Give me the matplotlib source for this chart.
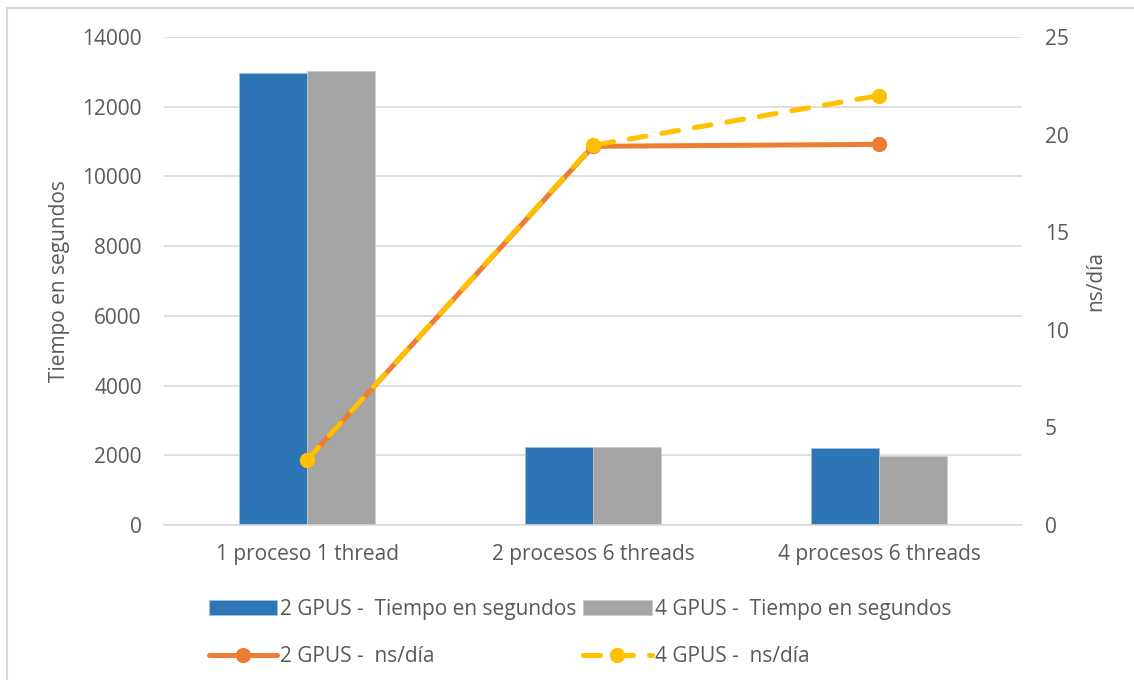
import matplotlib
matplotlib.use("Agg")
import matplotlib.pyplot as plt
from matplotlib.lines import Line2D
import numpy as np

categories = ["1 proceso 1 thread", "2 procesos 6 threads", "4 procesos 6 threads"]
tiempo_2gpus = [12980, 2250, 2220]
tiempo_4gpus = [13020, 2230, 1980]
nsdia_2gpus = [3.33, 19.4, 19.5]
nsdia_4gpus = [3.33, 19.45, 22.0]
left_ticks = [0, 2000, 4000, 6000, 8000, 10000, 12000, 14000]
right_ticks = [0, 5, 10, 15, 20, 25]

BLUE = "#2E75B6"
GRAY = "#A5A5A5"
ORANGE = "#ED7D31"
YELLOW = "#FFC000"
TXT = "#595959"
GRID = "#D9D9D9"

plt.rcParams["font.family"] = ["Open Sans", "DejaVu Sans"]
FS = 15

fig = plt.figure(figsize=(11.34, 6.8), dpi=100)
ax = fig.add_axes([164/1134, 1-525/680, (1022-164)/1134, (525-37)/680])
ax2 = ax.twinx()

x = np.arange(len(categories))
w = 0.238
ax.bar(x - w/2, tiempo_2gpus, w, color=BLUE, edgecolor="#9DC3E6", linewidth=0.5, zorder=2,
       label="2 GPUS -  Tiempo en segundos")
ax.bar(x + w/2, tiempo_4gpus, w, color=GRAY, edgecolor="#C9C9C9", linewidth=0.5, zorder=2,
       label="4 GPUS -  Tiempo en segundos")
ax.set_xlim(-0.5, 2.5)
ax.set_ylim(0, 14000)
ax.set_yticks(left_ticks)
ax.set_yticklabels([str(v) for v in left_ticks])
ax.set_xticks(x)
ax.set_xticklabels(categories)
ax.grid(axis="y", color=GRID, linewidth=1.2, zorder=0)
ax.set_axisbelow(True)
for s in ["top", "right", "left"]:
    ax.spines[s].set_visible(False)
    ax2.spines[s].set_visible(False)
ax.spines["bottom"].set_color(GRID)
ax.spines["bottom"].set_linewidth(1.2)
ax2.spines["bottom"].set_visible(False)
ax.tick_params(axis="both", length=0, labelsize=FS, labelcolor=TXT)
ax.tick_params(axis="x", pad=14)
ax.tick_params(axis="y", pad=16)
ax.set_ylabel("Tiempo en segundos", fontsize=FS, color=TXT, labelpad=9)

l1, = ax2.plot(x, nsdia_2gpus, color=ORANGE, lw=3.6, marker="o", markersize=10,
               solid_capstyle="round", zorder=3, label="2 GPUS -  ns/día")
l2, = ax2.plot(x, nsdia_4gpus, color=YELLOW, lw=3.6, marker="o", markersize=10,
               dash_capstyle="round", zorder=4, label="4 GPUS -  ns/día")
l2.set_dashes([3.4, 3.2])
ax2.set_ylim(0, 25)
ax2.set_yticks(right_ticks)
ax2.set_yticklabels([str(v) for v in right_ticks])
ax2.tick_params(axis="y", length=0, labelsize=FS, labelcolor=TXT, pad=16.5)
ax2.set_ylabel("ns/día", fontsize=FS, color=TXT, labelpad=12)

handles = [ax.containers[0], ax.containers[1], l1, l2]
labels = ["2 GPUS -  Tiempo en segundos", "4 GPUS -  Tiempo en segundos",
          "2 GPUS -  ns/día", "4 GPUS -  ns/día"]
order = [0, 2, 1, 3]
leg = fig.legend([handles[i] for i in order], [labels[i] for i in order],
                 ncol=2, loc="center", bbox_to_anchor=(580/1134, 1-633/680),
                 frameon=False, fontsize=FS, labelcolor=TXT, handlelength=3.3,
                 handletextpad=0.15, columnspacing=0.3, labelspacing=1.25,
                 handleheight=0.75)

# chart area border
fig.add_artist(Line2D([7/1134, 1], [1-8/680, 1-8/680], color=GRID, lw=1.5))
fig.add_artist(Line2D([7/1134, 7/1134], [0, 1-8/680], color=GRID, lw=1.5))

fig.savefig("out.png", dpi=100)
